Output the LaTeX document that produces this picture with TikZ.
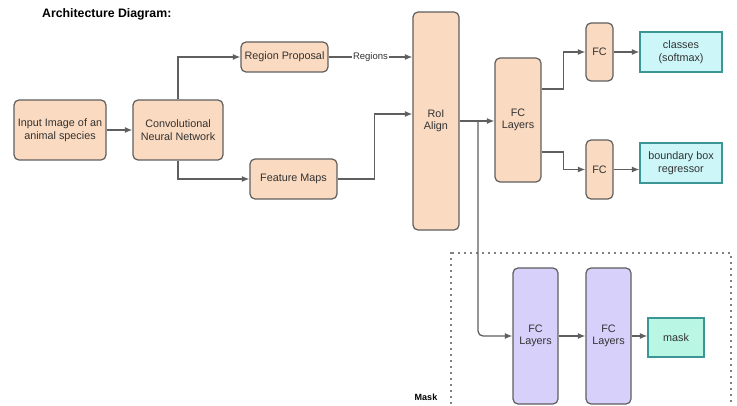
\documentclass[tikz,border=0pt]{standalone}
\usepackage{fontspec}
\setmainfont{Liberation Sans}
\usetikzlibrary{arrows.meta,calc}
\definecolor{peach}{RGB}{250,218,192}
\definecolor{lav}{RGB}{214,208,250}
\definecolor{cyanbox}{RGB}{204,246,248}
\definecolor{aqua}{RGB}{186,246,228}
\definecolor{edge}{RGB}{95,95,95}
\definecolor{teal}{RGB}{60,150,150}
\definecolor{txt}{RGB}{50,50,50}
\tikzset{
  box/.style={draw=edge, line width=1.2pt, rounded corners=5pt, fill=peach, align=center,
    font=\fontsize{10.8}{12.5}\selectfont, text=txt, inner sep=1pt},
  pbox/.style={box, fill=lav},
  cbox/.style={draw=teal, line width=1.2pt, fill=cyanbox, align=center,
    font=\fontsize{10.8}{12.5}\selectfont, text=txt, inner sep=1pt},
  conn/.style={draw=edge, line width=1.3pt, -{Latex[length=7.5pt,width=6pt]}},
}
\begin{document}
\begin{tikzpicture}[x=1pt,y=-1pt]
\path[use as bounding box] (0,0) rectangle (737,406);
\clip (0,0) rectangle (737,406);
\fill[white] (0,0) rectangle (737,406);
\node[font=\bfseries\fontsize{12.3}{14}\selectfont, anchor=west, inner sep=0pt] (title) at (42,14) {Architecture Diagram:};
\node[box, minimum width=92pt, minimum height=60pt] (in) at (60,130) {Input Image of an\\animal species};
\node[box, minimum width=90pt, minimum height=60pt] (cnn) at (178,130) {Convolutional\\Neural Network};
\node[box, minimum width=87pt, minimum height=30pt] (rp) at (284.5,57) {Region Proposal};
\node[box, minimum width=87pt, minimum height=40pt] (fm) at (293.5,179) {Feature Maps};
\node[box, minimum width=46pt, minimum height=218pt] (roi) at (436,121) {RoI\\Align};
\node[box, minimum width=46pt, minimum height=124pt] (fcl) at (518,120) {FC\\Layers};
\node[box, minimum width=27pt, minimum height=58pt] (fc1) at (599.5,52) {FC};
\node[box, minimum width=27pt, minimum height=59pt] (fc2) at (599.5,169.5) {FC};
\node[cbox, minimum width=82pt, minimum height=40pt] (cls) at (681,52) {classes\\(softmax)};
\node[cbox, minimum width=82pt, minimum height=40pt] (bbr) at (681,163) {boundary box\\regressor};
\node[pbox, minimum width=45pt, minimum height=136pt] (m1) at (535.5,336) {FC\\Layers};
\node[pbox, minimum width=45pt, minimum height=136pt] (m2) at (608.5,336) {FC\\Layers};
\node[cbox, fill=aqua, minimum width=56pt, minimum height=39pt] (mask) at (676,337.5) {mask};
\draw[line width=1.6pt, line cap=round, dash pattern=on 0pt off 6pt] (451,253) rectangle (731,412);
\node[font=\bfseries\fontsize{9}{10}\selectfont] (masklbl) at (426,397) {Mask};
\coordinate (br) at (478,0);
\draw[conn] (in.east) -- (cnn.west);
\draw[conn] (cnn.north) |- (rp.west);
\draw[conn] (cnn.south) |- (fm.west);
\draw[conn] (rp.east) -- node[fill=white, inner sep=1pt, font=\fontsize{9.5}{10}\selectfont, text=txt] {Regions} (rp.east -| roi.west);
\draw[conn] (fm.east) -- ++(37,0) |- ([yshift=7pt]roi.west);
\draw[conn] (roi.east) -- (roi.east -| fcl.west);
\draw[conn, rounded corners=5pt] (br |- roi.east) |- (m1.west);
\draw[conn] ([yshift=31pt]fcl.east) -- ++(22,0) |- (fc1.west);
\draw[conn] ([yshift=-32pt]fcl.east) -- ++(22,0) |- (fc2.west);
\draw[conn] (fc1.east) -- (cls.west);
\draw[conn] (fc2.east) -- (fc2.east -| bbr.west);
\draw[conn] (m1.east) -- (m2.west);
\draw[conn] (m2.east) -- (m2.east -| mask.west);
\end{tikzpicture}
\end{document}
